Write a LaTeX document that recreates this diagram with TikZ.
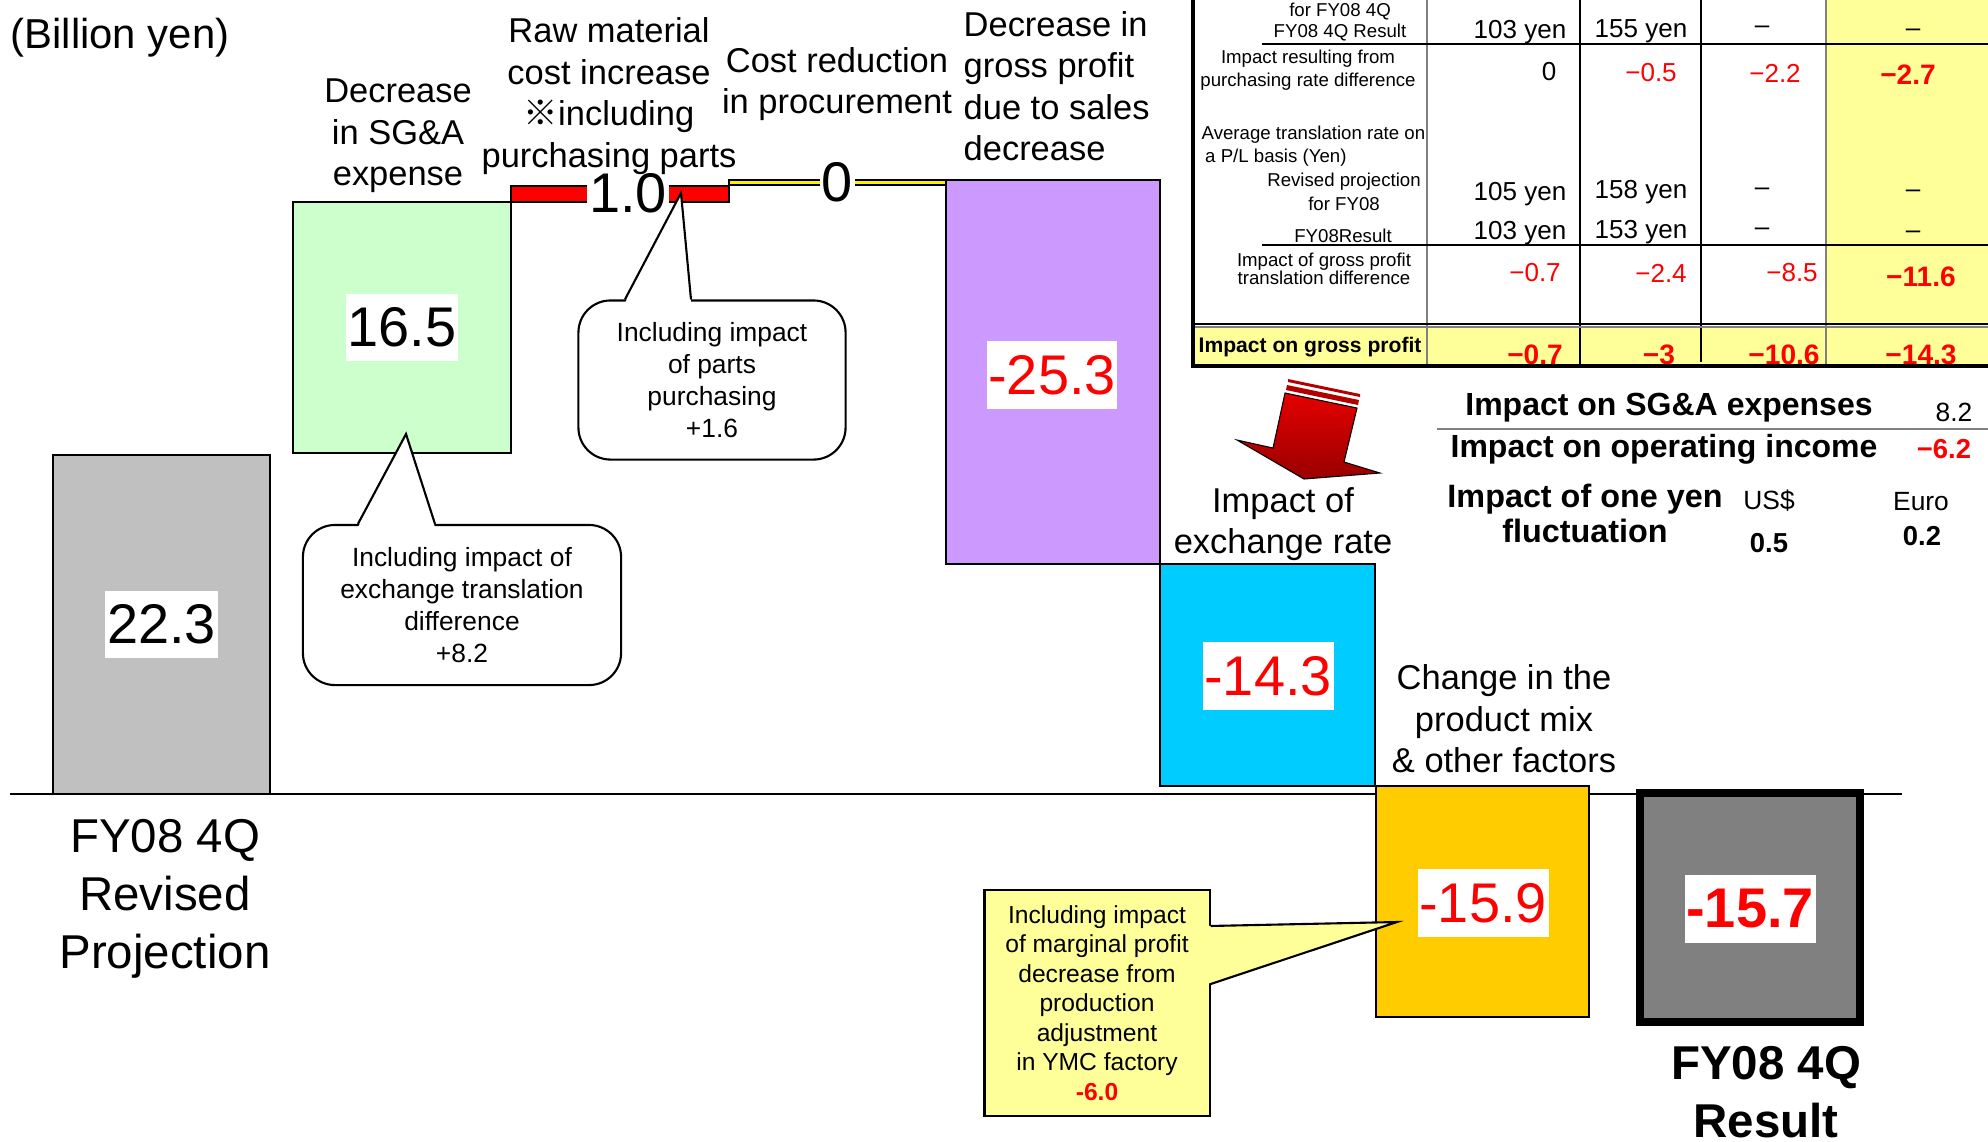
\documentclass[tikz,border=0pt]{standalone}
\usepackage{fontspec}
\setmainfont{Liberation Sans}
\newfontfamily\cjk{Noto Sans CJK JP}
\usetikzlibrary{positioning,fit,calc}
\definecolor{projgray}{RGB}{192,192,192}
\definecolor{sgagreen}{RGB}{204,255,204}
\definecolor{salespurple}{RGB}{204,153,255}
\definecolor{fxcyan}{RGB}{0,204,255}
\definecolor{mixgold}{RGB}{255,204,0}
\definecolor{resultgray}{RGB}{128,128,128}
\definecolor{lightyellow}{RGB}{255,255,153}

\begin{document}
\begin{tikzpicture}[
    x=0.01cm, y=-0.01cm,
    bar/.style={draw, line width=0.6pt, inner sep=0pt, outer sep=0pt},
    val/.style={fill=white, inner xsep=0.5pt, inner ysep=4pt, font=\fontsize{15.9}{17}\selectfont},
    redval/.style={val, text=red},
    cat/.style={align=center, inner sep=0pt, font=\fontsize{9.8}{11.8}\selectfont},
    base/.style={align=center, inner sep=0pt, font=\fontsize{13.5}{16.5}\selectfont},
    bubble/.style={draw, fill=white, rounded corners=0.32cm, line width=0.6pt, align=center,
                   inner sep=0pt, font=\fontsize{7.5}{9.1}\selectfont},
    tlab/.style={inner sep=0pt, align=center, font=\fontsize{5.3}{6.5}\selectfont},
    tnum/.style={inner sep=0pt, font=\fontsize{7.4}{8}\selectfont},
    tneg/.style={tnum, text=red},
    tbold/.style={inner sep=0pt, text=red, font=\fontsize{8}{9}\selectfont\bfseries},
    note/.style={inner sep=0pt, align=center, font=\fontsize{9.1}{10}\selectfont\bfseries},
    small/.style={inner sep=0pt, font=\fontsize{7.5}{8}\selectfont},
    smallbold/.style={inner sep=0pt, font=\fontsize{7.8}{8}\selectfont\bfseries}
]
\useasboundingbox (0,0) rectangle (1988,1141);

% Zero line
\draw[line width=0.5pt] (10,794) -- (1902,794);

% Bars
\node[bar, fill=projgray, fit={(53,455) (270,794)}] (proj) {};
\node[bar, fill=sgagreen, fit={(293,202) (511,453)}] (sga) {};
\node[bar, fill=red, fit={(511,186) (729,202)}] (raw) {};
\node[bar, fill=yellow, fit={(729,180) (946,185)}] (procure) {};
\node[bar, fill=salespurple, fit={(946,180) (1160,564)}] (sales) {};
\node[bar, fill=fxcyan, fit={(1160,564) (1375,786)}] (fx) {};
\node[bar, fill=mixgold, fit={(1376,786) (1589,1017)}] (mix) {};
\node[bar, fill=resultgray, line width=2.2pt, fit={(1640,793) (1860,1022)}] (result) {};

% Values
\node[val] (projval) at (proj) {22.3};
\node[val] (sgaval) at (sga) {16.5};
\node[val, inner ysep=0pt] (rawval) at (628,193) {1.0};
\node[val, inner ysep=0pt] (procureval) at (procure) {0};
\node[redval] (salesval) at (1052,375) {-25.3};
\node[redval] (fxval) at (1268,676) {-14.3};
\node[redval] (mixval) at (1483,903) {-15.9};
\node[redval, font=\fontsize{15.9}{17}\selectfont\bfseries] (resultval) at (1750,909) {-15.7};

% Labels
\node[anchor=west, inner sep=0pt, font=\fontsize{11.9}{13}\selectfont] (unit) at (10,38) {(Billion yen)};
\node[cat] (sgalab) at (398,136) {Decrease\\in SG\&A\\expense};
\node[cat] (rawlab) at (609,96) {Raw material\\cost increase\\{\cjk ※}including\\purchasing parts};
\node[cat] (procurelab) at (837,84) {Cost reduction\\in procurement};
\node[cat, align=left, anchor=west] (saleslab) at (963,86) {Decrease in\\gross profit\\due to sales\\decrease};
\node[cat] (fxlab) at (1283,524) {Impact of\\exchange rate};
\node[cat] (mixlab) at (1504,719) {Change in the\\product mix\\\& other factors};
\node[base] (projlab) at (165,899) {FY08 4Q\\Revised\\Projection};
\node[base, font=\fontsize{13.5}{16.5}\selectfont\bfseries] (resultlab) at (1766,1092) {FY08 4Q\\Result};

% Callouts
\node[bubble, minimum width=3.18cm, minimum height=1.6cm] (transnote) at (462,605)
    {Including impact of\\exchange translation\\difference\\+8.2};
\coordinate (sgatip) at (406,434);
\fill[white] ([xshift=-1.04cm, yshift=-1pt]transnote.north) -- (sgatip) -- ([xshift=-0.27cm, yshift=-1pt]transnote.north) -- cycle;
\draw[line width=0.6pt] ([xshift=-1.04cm]transnote.north) -- (sgatip) -- ([xshift=-0.27cm]transnote.north);

\node[bubble, minimum width=2.67cm, minimum height=1.59cm] (partsnote) at (712,380)
    {Including impact\\of parts\\purchasing\\+1.6};
\coordinate (rawtip) at (681,193);
\fill[white] ([xshift=-0.87cm, yshift=-1pt]partsnote.north) -- (rawtip) -- ([xshift=-0.21cm, yshift=-1pt]partsnote.north) -- cycle;
\draw[line width=0.6pt] ([xshift=-0.87cm]partsnote.north) -- (rawtip) -- ([xshift=-0.21cm]partsnote.north);

\node[draw, fill=lightyellow, line width=0.6pt, align=center, inner sep=0pt,
      minimum width=2.25cm, minimum height=2.26cm, font=\fontsize{7}{8.4}\selectfont] (ymcnote) at (1097,1003)
    {Including impact\\of marginal profit\\decrease from\\production\\adjustment\\in YMC factory\\{\color{red}\bfseries -6.0}};
\coordinate (mixtip) at (1397,922);
\fill[lightyellow] ([yshift=0.77cm, xshift=-1pt]ymcnote.east) -- (mixtip) -- ([yshift=0.19cm, xshift=-1pt]ymcnote.east) -- cycle;
\draw[line width=0.6pt] ([yshift=0.77cm]ymcnote.east) -- (mixtip) -- ([yshift=0.19cm]ymcnote.east);

% Exchange arrow
\shadedraw[top color=red!90!black, middle color=red, bottom color=red!60!black, draw=black, line width=0.3pt]
    (1285,393) -- (1357,408) -- (1344,462) -- (1380,473) -- (1304,479) -- (1237,440) -- (1273,448) -- cycle;
\fill[red!70!black] (1288,379) -- (1360,394) -- (1360,397) -- (1288,382) -- cycle;
\fill[red!70!black] (1287,385) -- (1359,400) -- (1358,405) -- (1286,390) -- cycle;

% Table
\fill[lightyellow] (1826,0) rectangle (1988,366);
\fill[lightyellow] (1193,327) rectangle (1988,366);
\draw[gray, line width=0.5pt] (1427,0) -- (1427,366);
\draw[line width=0.4pt] (1580,0) -- (1580,366);
\draw[line width=0.4pt] (1701,0) -- (1701,362);
\draw[gray, line width=0.4pt] (1826,0) -- (1826,366);
\draw[line width=0.5pt] (1262,44) -- (1988,44);
\draw[line width=0.6pt] (1262,245) -- (1988,245);
\draw[line width=0.5pt] (1193,324) -- (1988,324);
\draw[gray, line width=0.5pt] (1193,327) -- (1988,327);
\draw[line width=0.9pt] (1193,0) -- (1193,366) -- (1988,366);

\node[tlab, font=\fontsize{5.3}{6}\selectfont] (fyqlab) at (1340,22) {for FY08 4Q\\FY08 4Q Result};
\node[tnum] (usdq) at (1520,32) {103 yen};
\node[tnum] (eurq) at (1641,31) {155 yen};
\node[tnum] (othq) at (1762,30) {–};
\node[tnum] (totq) at (1913,33) {–};

\node[tlab] (purchlab) at (1308,70) {Impact resulting from\\purchasing rate difference};
\node[tnum] (usdpur) at (1549,72) {0};
\node[tneg] (eurpur) at (1651,73) {−0.5};
\node[tneg] (othpur) at (1775,73) {−2.2};
\node[tbold] (totpur) at (1908,75) {−2.7};

\node[tlab, align=left, anchor=west] (avglab) at (1201,146) {Average translation rate on\\\hspace{1pt}a P/L basis (Yen)};
\node[tlab, font=\fontsize{5.3}{7}\selectfont] (revlab) at (1344,192) {Revised projection\\for FY08};
\node[tnum] (usdrev) at (1520,194) {105 yen};
\node[tnum] (eurrev) at (1641,192) {158 yen};
\node[tnum] (othrev) at (1762,192) {–};
\node[tnum] (totrev) at (1913,194) {–};

\node[tlab] (reslab) at (1343,236) {FY08Result};
\node[tnum] (usdres) at (1520,233) {103 yen};
\node[tnum] (eurres) at (1641,232) {153 yen};
\node[tnum] (othres) at (1762,232) {–};
\node[tnum] (totres) at (1913,235) {–};

\node[tlab, font=\fontsize{5.3}{5.3}\selectfont] (grosslab) at (1324,269) {Impact of gross profit\\translation difference};
\node[tneg] (usdgro) at (1535,273) {−0.7};
\node[tneg] (eurgro) at (1661,273) {−2.4};
\node[tneg] (othgro) at (1792,273) {−8.5};
\node[tbold] (totgro) at (1921,277) {−11.6};

\node[inner sep=0pt, anchor=west, font=\fontsize{6}{7}\selectfont\bfseries] (sumlab) at (1198,347) {Impact on gross profit};
\node[tbold] (usdsum) at (1535,355) {−0.7};
\node[tbold] (eursum) at (1659,355) {−3};
\node[tbold] (othsum) at (1784,355) {−10.6};
\node[tbold] (totsum) at (1921,355) {−14.3};

% Impact summary
\node[note] (sgaimp) at (1669,408) {Impact on SG\&A expenses};
\node[small] (sgaimpval) at (1954,412) {8.2};
\draw[gray, line width=0.5pt] (1437,429) -- (1988,429);
\node[note] (opimp) at (1664,449) {Impact on operating income};
\node[smallbold, text=red] (opimpval) at (1944,449) {−6.2};
\node[note, font=\fontsize{9.2}{10}\selectfont\bfseries] (onelab) at (1585,513) {Impact of one yen\\fluctuation};
\node[small] (usdlab) at (1769,501) {US\$};
\node[smallbold] (usdval) at (1769,543) {0.5};
\node[small] (eurlab) at (1921,502) {Euro};
\node[smallbold] (eurval) at (1922,536) {0.2};

\end{tikzpicture}
\end{document}
